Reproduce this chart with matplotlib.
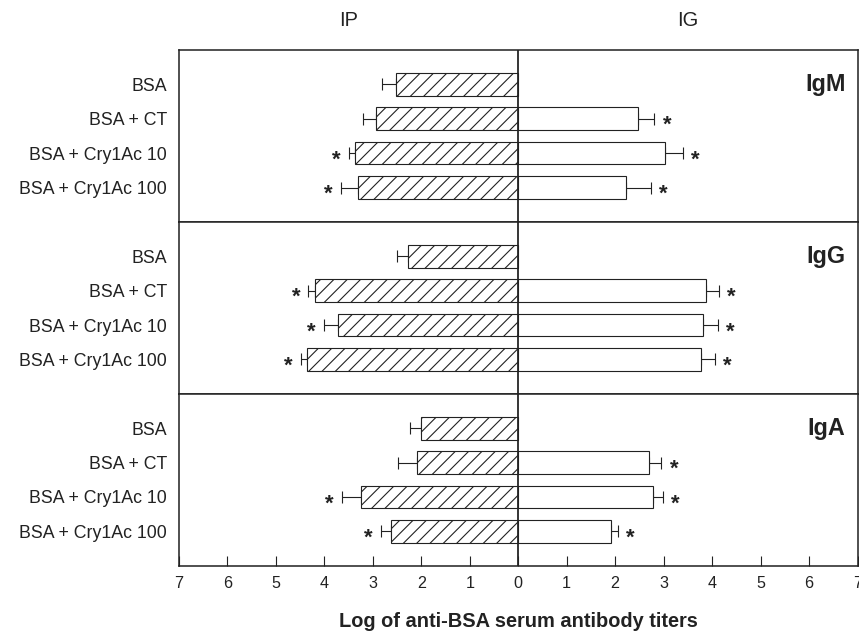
import numpy as np
import matplotlib.pyplot as plt

plt.rcParams['font.family'] = ['Liberation Sans', 'DejaVu Sans']

# data: log titres
groups = ["BSA", "BSA + CT", "BSA + Cry1Ac 10", "BSA + Cry1Ac 100"]
panels = ["IgM", "IgG", "IgA"]

ip_igm = [2.52, 2.93, 3.36, 3.30]
ip_igm_err = [0.30, 0.27, 0.14, 0.36]
ig_igm = [np.nan, 2.47, 3.02, 2.22]
ig_igm_err = [np.nan, 0.34, 0.38, 0.52]

ip_igg = [2.28, 4.19, 3.71, 4.35]
ip_igg_err = [0.23, 0.14, 0.29, 0.14]
ig_igg = [np.nan, 3.88, 3.81, 3.77]
ig_igg_err = [np.nan, 0.26, 0.31, 0.28]

ip_iga = [2.00, 2.08, 3.25, 2.63]
ip_iga_err = [0.23, 0.40, 0.39, 0.20]
ig_iga = [np.nan, 2.70, 2.78, 1.92]
ig_iga_err = [np.nan, 0.25, 0.20, 0.13]

# significance markers
ip_star_igm = [0, 0, 1, 1]
ig_star_igm = [0, 1, 1, 1]
ip_star_igg = [0, 1, 1, 1]
ig_star_igg = [0, 1, 1, 1]
ip_star_iga = [0, 0, 1, 1]
ig_star_iga = [0, 1, 1, 1]

xticks = list(range(-7, 8))

ip_all = [ip_igm, ip_igg, ip_iga]
ip_err_all = [ip_igm_err, ip_igg_err, ip_iga_err]
ig_all = [ig_igm, ig_igg, ig_iga]
ig_err_all = [ig_igm_err, ig_igg_err, ig_iga_err]
ip_star_all = [ip_star_igm, ip_star_igg, ip_star_iga]
ig_star_all = [ig_star_igm, ig_star_igg, ig_star_iga]

W, H, DPI = 859, 637, 80
fig = plt.figure(figsize=(W / DPI, H / DPI), dpi=DPI)

ink = '#222222'
narrow = ['Liberation Sans Narrow', 'Liberation Sans', 'DejaVu Sans']
left, right = 179, 857.5
top, bottom = 50, 565.7
ph = (bottom - top) / 3

axes = []
for i, name in enumerate(panels):
    ax = fig.add_axes([left / W, 1 - (top + (i + 1) * ph) / H,
                       (right - left) / W, ph / H])
    axes.append(ax)
    y = np.arange(1, 5)

    ip = np.array(ip_all[i])
    ip_err = np.array(ip_err_all[i])
    ax.barh(y, -ip, height=0.66, color='white', edgecolor=ink,
            hatch='//', linewidth=1.0, zorder=2)
    ax.errorbar(-ip, y, xerr=[ip_err, np.zeros(4)], fmt='none',
                ecolor=ink, elinewidth=1.0, capsize=5, capthick=1.0, zorder=1)

    ig = np.array(ig_all[i])
    ig_err = np.array(ig_err_all[i])
    ok = ~np.isnan(ig)
    ax.barh(y[ok], ig[ok], height=0.66, color='white', edgecolor=ink,
            linewidth=1.0, zorder=2)
    ax.errorbar(ig[ok], y[ok], xerr=[np.zeros(ok.sum()), ig_err[ok]],
                fmt='none', ecolor=ink, elinewidth=1.0, capsize=5,
                capthick=1.0, zorder=1)

    # asterisks just beyond the error caps
    for k in range(4):
        if ip_star_all[i][k]:
            ax.text(-(ip[k] + ip_err[k]) - 0.26, y[k] + 0.36, '*',
                    ha='center', va='baseline', fontsize=20,
                    fontweight='bold', color=ink)
        if ig_star_all[i][k]:
            ax.text(ig[k] + ig_err[k] + 0.26, y[k] + 0.36, '*',
                    ha='center', va='baseline', fontsize=20,
                    fontweight='bold', color=ink)

    ax.axvline(0, color=ink, linewidth=1.6, zorder=3)
    ax.text(6.75, 1, name, ha='right', va='center', fontsize=21,
            fontweight='bold', family=narrow, color=ink)

    ax.set_xlim(-7, 7)
    ax.set_ylim(5, 0)
    ax.set_yticks(y, groups, fontsize=16, color=ink)
    ax.tick_params(axis='y', length=0, pad=10.8)
    for s in ax.spines.values():
        s.set_color(ink)
        s.set_linewidth(1.4)
    if i < 2:
        ax.tick_params(axis='x', bottom=False, labelbottom=False)

ax = axes[-1]
ax.set_xticks(xticks, [str(abs(v)) for v in xticks])
ax.tick_params(axis='x', direction='in', length=9, width=1.0,
               pad=9, labelsize=14.5, colors=ink)
ax.set_xlabel('Log of anti-BSA serum antibody titers', fontsize=18,
              fontweight='bold', family=narrow, color=ink, labelpad=19)

fig.text((left + 518.3) / 2 / W, 1 - 20 / H, 'IP', ha='center',
         va='center', fontsize=18, color=ink)
fig.text((518.3 + right) / 2 / W, 1 - 20 / H, 'IG', ha='center',
         va='center', fontsize=18, color=ink)

fig.savefig('out.png', dpi=DPI)
